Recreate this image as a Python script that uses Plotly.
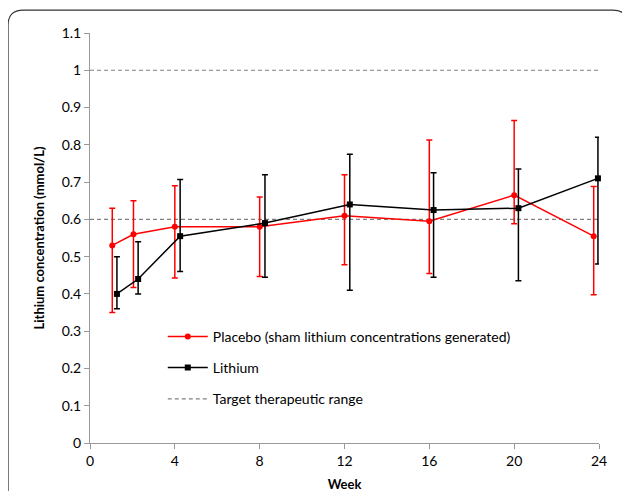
import plotly.graph_objects as go

# Data
placebo_weeks = [1.05, 2.05, 4.0, 8.0, 12.0, 16.0, 20.0, 23.75]
placebo_mean = [0.53, 0.56, 0.58, 0.58, 0.61, 0.595, 0.665, 0.555]
placebo_upper = [0.63, 0.65, 0.69, 0.66, 0.72, 0.813, 0.865, 0.688]
placebo_lower = [0.35, 0.417, 0.443, 0.447, 0.478, 0.455, 0.588, 0.398]

lithium_weeks = [1.27, 2.27, 4.25, 8.25, 12.25, 16.2, 20.2, 23.95]
lithium_mean = [0.40, 0.44, 0.555, 0.59, 0.64, 0.625, 0.63, 0.71]
lithium_upper = [0.50, 0.54, 0.707, 0.72, 0.775, 0.725, 0.735, 0.82]
lithium_lower = [0.36, 0.40, 0.46, 0.445, 0.41, 0.445, 0.435, 0.48]

target_levels = [0.6, 1.0]
week_range = [0, 24]

x_ticks = [0, 4, 8, 12, 16, 20, 24]
y_ticks = [0, 0.1, 0.2, 0.3, 0.4, 0.5, 0.6, 0.7, 0.8, 0.9, 1, 1.1]
y_tick_labels = ["0", "0.1", "0.2", "0.3", "0.4", "0.5", "0.6", "0.7", "0.8", "0.9", "1", "1.1"]

FONT = "Lato, 'Open Sans', sans-serif"

fig = go.Figure()

fig.add_trace(go.Scatter(
    x=placebo_weeks, y=placebo_mean, mode="lines+markers",
    name="Placebo (sham lithium concentrations generated)",
    legendgroup="a", legendrank=1,
    line=dict(color="#ff0000", width=1.5),
    marker=dict(symbol="circle", size=6, color="#ff0000"),
    error_y=dict(type="data", symmetric=False,
                 array=[u - m for u, m in zip(placebo_upper, placebo_mean)],
                 arrayminus=[m - l for m, l in zip(placebo_mean, placebo_lower)],
                 color="#ff0000", thickness=1.5, width=3),
    cliponaxis=False,
))
fig.add_trace(go.Scatter(
    x=lithium_weeks, y=lithium_mean, mode="lines+markers",
    name="Lithium",
    legendgroup="b", legendrank=2,
    line=dict(color="#000000", width=1.5),
    marker=dict(symbol="square", size=6, color="#000000"),
    error_y=dict(type="data", symmetric=False,
                 array=[u - m for u, m in zip(lithium_upper, lithium_mean)],
                 arrayminus=[m - l for m, l in zip(lithium_mean, lithium_lower)],
                 color="#000000", thickness=1.5, width=3),
    cliponaxis=False,
))

tx, ty = [], []
for lv in target_levels:
    tx += [week_range[0], week_range[1], None]
    ty += [lv, lv, None]
fig.add_trace(go.Scatter(
    x=tx, y=ty, mode="lines", name="Target therapeutic range",
    legendgroup="c", legendrank=3,
    line=dict(color="#808080", width=1.2, dash="4px,3px"),
    hoverinfo="skip",
))
# draw target lines below the data
fig.data = (fig.data[2], fig.data[0], fig.data[1])

# Outer rounded frame (paper coordinates)
L, R, T, B = -0.161, 1.057, 1.056, -0.25
rx, ry = 0.03, 0.037
path = (f"M {L} {B} L {L} {T-ry} Q {L} {T} {L+rx} {T} "
        f"L {R-rx} {T} Q {R} {T} {R} {T-ry} L {R} {B}")
fig.add_shape(type="path", path=path, xref="paper", yref="paper",
              line=dict(color="#333333", width=1.2), layer="below")

fig.update_layout(
    width=630, height=491,
    margin=dict(l=82, r=39, t=25, b=56),
    paper_bgcolor="white", plot_bgcolor="white",
    font=dict(family=FONT, size=14, color="#000000"),
    showlegend=True,
    legend=dict(x=0.143, y=0.298, xanchor="left", yanchor="top",
                bgcolor="rgba(0,0,0,0)", tracegroupgap=10, itemwidth=40,
                traceorder="grouped", font=dict(family=FONT, size=14)),
    xaxis=dict(range=week_range, tickvals=x_ticks, showgrid=False, zeroline=False,
               automargin=False,
               showline=True, linecolor="#999999", linewidth=1,
               ticks="outside", ticklen=5, tickcolor="#999999",
               title=dict(text="<b>Week</b>", standoff=12, font=dict(size=13))),
    yaxis=dict(range=[0, 1.1], tickvals=y_ticks, ticktext=y_tick_labels,
               showgrid=False, zeroline=False, automargin=False,
               showline=True, linecolor="#999999", linewidth=1,
               ticks="outside", ticklen=5, tickcolor="#999999",
               title=dict(text="<b>Lithium concentration (mmol/L)</b>", standoff=14,
                          font=dict(size=13))),
)

fig.write_html("out.html")
